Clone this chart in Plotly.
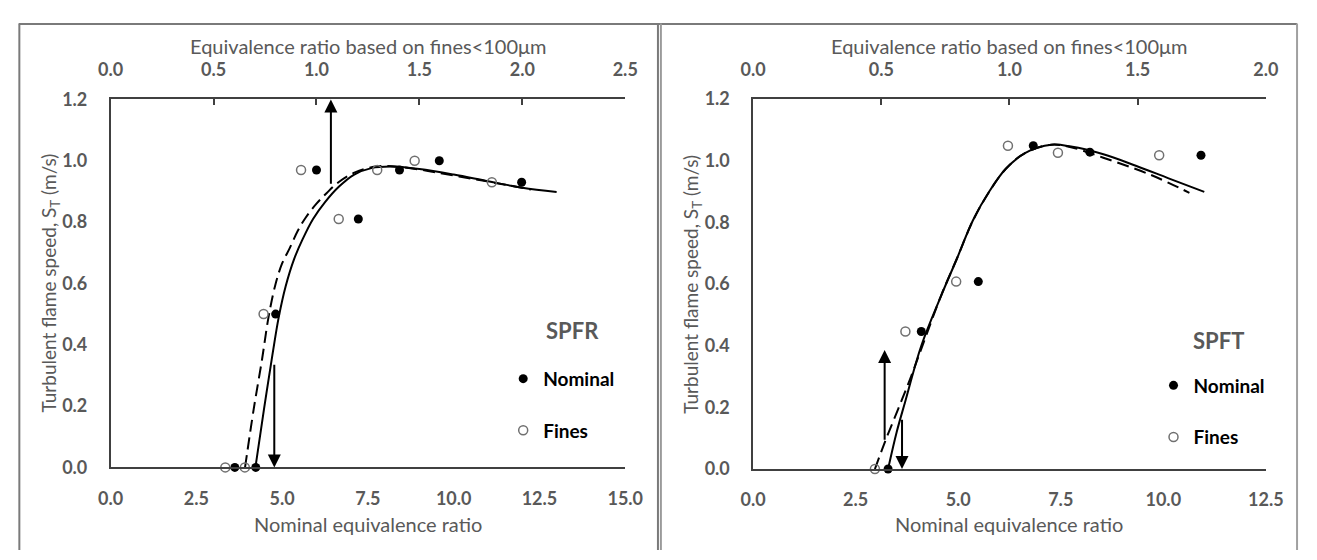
import plotly.graph_objects as go

W, H = 1317, 560

# ---------------- DATA ----------------
# Left panel: SPFR
spfr_nom_x = [3.62, 4.23, 4.81, 6.00, 7.22, 8.42, 9.58, 11.98]
spfr_nom_y = [0.0, 0.0, 0.50, 0.97, 0.81, 0.97, 1.00, 0.93]
spfr_fin_x = [0.557, 0.652, 0.743, 0.925, 1.108, 1.295, 1.477, 1.852]   # fines-based ratio
spfr_fin_y = [0.0, 0.0, 0.50, 0.97, 0.81, 0.97, 1.00, 0.93]
spfr_fit_nom_x = [4.22, 4.47, 4.72, 4.90, 5.10, 5.35, 5.60, 5.90, 6.25, 6.65, 7.10, 7.60, 8.15, 9.0, 10.0, 11.0, 12.0, 13.0]
spfr_fit_nom_y = [0.0, 0.19, 0.37, 0.49, 0.59, 0.68, 0.745, 0.81, 0.865, 0.915, 0.955, 0.976, 0.981, 0.973, 0.955, 0.933, 0.912, 0.898]
spfr_fit_fin_x = [0.653, 0.695, 0.735, 0.767, 0.800, 0.833, 0.870, 0.908, 0.948, 1.000, 1.050, 1.107, 1.187, 1.297, 1.417, 1.583, 1.750, 1.917, 2.042]
spfr_fit_fin_y = [0.0, 0.19, 0.35, 0.49, 0.595, 0.665, 0.715, 0.77, 0.815, 0.86, 0.895, 0.93, 0.962, 0.982, 0.979, 0.962, 0.942, 0.922, 0.906]
spfr_up_arrow = dict(x=1.07, y0=0.92, y1=1.2)      # fines axis
spfr_down_arrow = dict(x=4.77, y0=0.34, y1=0.0)    # nominal axis

# Right panel: SPFT
spft_nom_x = [3.29, 4.10, 5.49, 6.83, 8.21, 10.92]
spft_nom_y = [0.0, 0.446, 0.608, 1.049, 1.028, 1.018]
spft_fin_x = [0.475, 0.594, 0.792, 0.994, 1.189, 1.584]
spft_fin_y = [0.0, 0.446, 0.608, 1.049, 1.026, 1.018]
spft_fit_nom_x = [3.29, 3.50, 3.70, 4.10, 4.57, 4.97, 5.36, 5.76, 6.16, 6.64, 7.27, 7.75, 8.54, 9.33, 10.13, 11.0]
spft_fit_nom_y = [0.0, 0.12, 0.215, 0.40, 0.558, 0.683, 0.807, 0.901, 0.974, 1.026, 1.052, 1.046, 1.021, 0.984, 0.943, 0.899]
spft_fit_fin_x = [0.475, 0.515, 0.566, 0.616, 0.656, 0.731, 0.795, 0.858, 0.922, 0.986, 1.062, 1.163, 1.240, 1.366, 1.555, 1.702]
spft_fit_fin_y = [0.0, 0.09, 0.195, 0.30, 0.39, 0.558, 0.683, 0.807, 0.901, 0.974, 1.026, 1.052, 1.044, 1.010, 0.953, 0.896]
spft_up_arrow = dict(x=0.513, y0=0.09, y1=0.386)
spft_down_arrow = dict(x=3.63, y0=0.165, y1=0.0)

y_ticks = [0.0, 0.2, 0.4, 0.6, 0.8, 1.0, 1.2]
spfr_nom_ticks = [0.0, 2.5, 5.0, 7.5, 10.0, 12.5, 15.0]
spfr_fin_ticks = [0.0, 0.5, 1.0, 1.5, 2.0, 2.5]
spft_nom_ticks = [0.0, 2.5, 5.0, 7.5, 10.0, 12.5]
spft_fin_ticks = [0.0, 0.5, 1.0, 1.5, 2.0]

top_title = "Equivalence ratio based on fines<100μm"
bottom_title = "Nominal equivalence ratio"
y_title = "Turbulent flame speed, S<sub>T</sub> (m/s)"

# ---------------- STYLE ----------------
FONT = "Lato"
GRAY = "#595959"
AX = "#404040"
tick_font = dict(family=FONT, size=18, color=GRAY, weight="bold")
title_font = dict(family=FONT, size=20, color=GRAY)
ytitle_font = dict(family=FONT, size=19, color=GRAY)

def px(x):
    return x / W

def py(y):
    return 1 - y / H

fig = go.Figure()

def add_panel(xb, xt, yax, fit_nom, fit_fin, nom, fin, legend):
    fig.add_trace(go.Scatter(x=fit_fin[0], y=fit_fin[1], xaxis=xt, yaxis=yax, mode="lines",
                             line=dict(color="black", width=2, dash="12px,6px", shape="spline", smoothing=1.0),
                             showlegend=False, hoverinfo="skip", cliponaxis=False))
    fig.add_trace(go.Scatter(x=fit_nom[0], y=fit_nom[1], xaxis=xb, yaxis=yax, mode="lines",
                             line=dict(color="black", width=2, shape="spline", smoothing=1.0),
                             showlegend=False, hoverinfo="skip", cliponaxis=False))
    fig.add_trace(go.Scatter(x=nom[0], y=nom[1], xaxis=xb, yaxis=yax, mode="markers", name="Nominal",
                             marker=dict(symbol="circle", size=9, color="black"),
                             legend=legend, legendgroup=legend + "n", cliponaxis=False))
    fig.add_trace(go.Scatter(x=fin[0], y=fin[1], xaxis=xt, yaxis=yax, mode="markers", name="Fines",
                             marker=dict(symbol="circle-open", size=9, color="#707070", line=dict(width=1.5)),
                             legend=legend, legendgroup=legend + "f", cliponaxis=False))

add_panel("x", "x2", "y", (spfr_fit_nom_x, spfr_fit_nom_y), (spfr_fit_fin_x, spfr_fit_fin_y),
          (spfr_nom_x, spfr_nom_y), (spfr_fin_x, spfr_fin_y), "legend")
add_panel("x3", "x4", "y2", (spft_fit_nom_x, spft_fit_nom_y), (spft_fit_fin_x, spft_fit_fin_y),
          (spft_nom_x, spft_nom_y), (spft_fin_x, spft_fin_y), "legend2")

def bottom_axis(dom, rng, ticks, anchor):
    return dict(domain=dom, range=rng, tickvals=ticks, tickformat=".1f", anchor=anchor,
                showline=True, linecolor=AX, linewidth=1.5, ticks="", showgrid=False,
                zeroline=False, tickfont=tick_font, ticklabelstandoff=14, fixedrange=True)

def top_axis(over, rng, ticks, anchor):
    return dict(overlaying=over, side="top", range=rng, tickvals=ticks, tickformat=".1f", anchor=anchor,
                showline=True, linecolor=AX, linewidth=1.5, ticks="inside", ticklen=6,
                tickcolor=AX, tickwidth=1.5, showgrid=False, zeroline=False,
                tickfont=tick_font, ticklabelstandoff=14, fixedrange=True)

def left_axis(dom, anchor):
    return dict(domain=dom, range=[0, 1.2], tickvals=y_ticks, tickformat=".1f", anchor=anchor,
                showline=True, linecolor=AX, linewidth=1.5, ticks="", showgrid=False,
                zeroline=False, tickfont=tick_font, ticklabelstandoff=18, fixedrange=True)

L_x0, L_x1, L_top, L_bot = 100, 627, 91, 474
R_x0, R_x1, R_top, R_bot = 758, 1283, 90.7, 475.7

fig.update_layout(
    xaxis=bottom_axis([px(L_x0), px(L_x1)], [0, 15], spfr_nom_ticks, "y"),
    xaxis2=top_axis("x", [0, 2.5], spfr_fin_ticks, "y"),
    yaxis=left_axis([py(L_bot), py(L_top)], "x"),
    xaxis3=bottom_axis([px(R_x0), px(R_x1)], [0, 12.5], spft_nom_ticks, "y2"),
    xaxis4=top_axis("x3", [0, 2.0], spft_fin_ticks, "y2"),
    yaxis2=left_axis([py(R_bot), py(R_top)], "x3"),
)

leg_common = dict(font=dict(family=FONT, size=19, color="black", weight="bold"),
                  bgcolor="rgba(0,0,0,0)", tracegroupgap=24, xanchor="left", yanchor="top",
                  itemclick=False, itemdoubleclick=False)
fig.update_layout(
    legend=dict(x=px(502), y=py(362), **leg_common),
    legend2=dict(x=px(1168), y=py(369), **leg_common),
)

ann = []
for cx, cy, txt in [(573, 332, "SPFR"), (1235, 341.7, "SPFT")]:
    ann.append(dict(x=px(cx), y=py(cy), xref="paper", yref="paper", text=txt, showarrow=False,
                    font=dict(family=FONT, size=22, color=GRAY, weight="bold"),
                    xanchor="center", yanchor="middle"))
for (x0, x1, xt0, ytit) in [(L_x0, L_x1, 38, (L_top + L_bot) / 2), (R_x0, R_x1, 695, (R_top + R_bot) / 2)]:
    cx = (x0 + x1) / 2
    ann.append(dict(x=px(cx), y=py(35), xref="paper", yref="paper", text=top_title, showarrow=False,
                    font=title_font, xanchor="center", yanchor="middle"))
    ann.append(dict(x=px(cx), y=py(533), xref="paper", yref="paper", text=bottom_title, showarrow=False,
                    font=title_font, xanchor="center", yanchor="middle"))
    ann.append(dict(x=px(xt0), y=py(ytit), xref="paper", yref="paper", text=y_title, showarrow=False,
                    font=ytitle_font, textangle=-90, xanchor="center", yanchor="middle"))

def arrow(a, xref, yref):
    return dict(x=a["x"], y=a["y1"], ax=a["x"], ay=a["y0"], xref=xref, yref=yref, axref=xref, ayref=yref,
                text="", showarrow=True, arrowhead=2, arrowsize=1.3, arrowwidth=2, arrowcolor="black",
                standoff=0, startstandoff=0)

ann += [arrow(spfr_up_arrow, "x2", "y"), arrow(spfr_down_arrow, "x", "y"),
        arrow(spft_up_arrow, "x4", "y2"), arrow(spft_down_arrow, "x3", "y2")]

FR = "#7a7a7a"
shapes = [
    dict(type="line", xref="paper", yref="paper", x0=px(6), x1=px(1315), y0=py(12.5), y1=py(12.5),
         line=dict(color=FR, width=2)),
    dict(type="line", xref="paper", yref="paper", x0=px(6.5), x1=px(6.5), y0=py(12), y1=0,
         line=dict(color=FR, width=2)),
    dict(type="line", xref="paper", yref="paper", x0=px(660.5), x1=px(660.5), y0=py(12), y1=0,
         line=dict(color=FR, width=2)),
    dict(type="line", xref="paper", yref="paper", x0=px(663.5), x1=px(663.5), y0=py(12), y1=0,
         line=dict(color="#9a9a9a", width=2)),
    dict(type="line", xref="paper", yref="paper", x0=px(1315), x1=px(1315), y0=py(12), y1=0,
         line=dict(color="#a0a0a0", width=2)),
]

fig.update_layout(
    width=W, height=H, margin=dict(l=0, r=0, t=0, b=0),
    paper_bgcolor="white", plot_bgcolor="white",
    annotations=ann, shapes=shapes, hovermode=False,
)

fig.write_html("out.html",
               post_script="document.body.style.margin='0px';document.body.style.overflow='hidden';")
